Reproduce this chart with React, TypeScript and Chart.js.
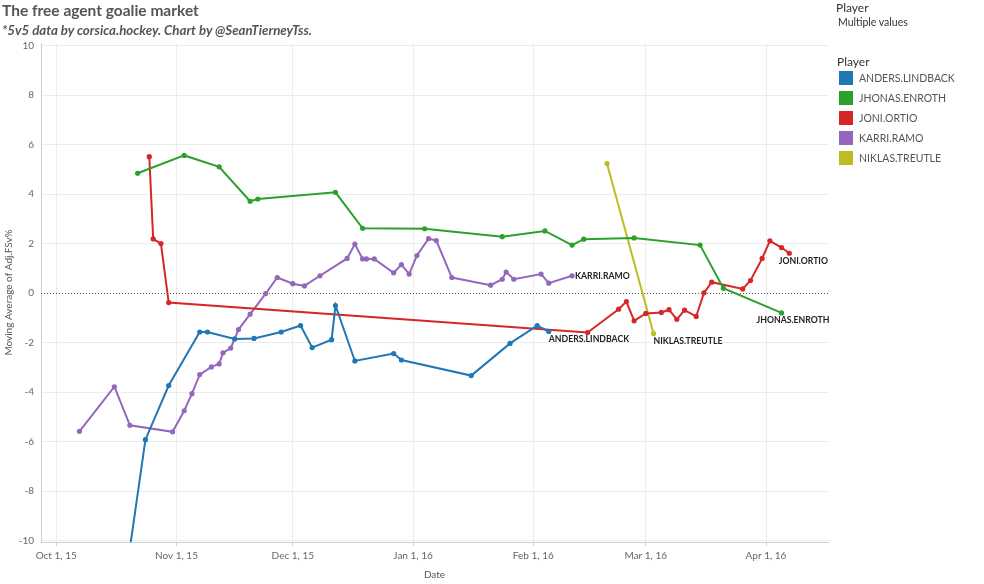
import React, { useEffect, useRef } from "react";
import { Chart, registerables } from "chart.js";
Chart.register(...registerables);

const FONT = "Lato, 'Open Sans', sans-serif";

// ---- data ----
const playerNames = ["ANDERS.LINDBACK", "JHONAS.ENROTH", "JONI.ORTIO", "KARRI.RAMO", "NIKLAS.TREUTLE"];
const playerColors = ["#1f77b4", "#2ca02c", "#d62728", "#9467bd", "#bcbd22"];

const lindbackDates = ["2015-10-19","2015-10-24","2015-10-30","2015-11-07","2015-11-09","2015-11-16","2015-11-21","2015-11-28","2015-12-03","2015-12-06","2015-12-11","2015-12-12","2015-12-17","2015-12-27","2015-12-29","2016-01-16","2016-01-26","2016-02-02","2016-02-05"];
const lindbackValues = [-11.4,-5.92,-3.73,-1.57,-1.57,-1.85,-1.83,-1.57,-1.31,-2.2,-1.88,-0.5,-2.74,-2.44,-2.7,-3.33,-2.03,-1.31,-1.55];

const enrothDates = ["2015-10-22","2015-11-03","2015-11-12","2015-11-20","2015-11-22","2015-12-12","2015-12-19","2016-01-04","2016-01-24","2016-02-04","2016-02-11","2016-02-14","2016-02-27","2016-03-15","2016-03-21","2016-04-05"];
const enrothValues = [4.84,5.56,5.1,3.71,3.8,4.07,2.62,2.6,2.28,2.51,1.94,2.18,2.23,1.94,0.2,-0.8];

const ortioDates = ["2015-10-25","2015-10-26","2015-10-28","2015-10-30","2016-02-15","2016-02-23","2016-02-25","2016-02-27","2016-03-01","2016-03-05","2016-03-07","2016-03-09","2016-03-11","2016-03-14","2016-03-16","2016-03-18","2016-03-26","2016-03-28","2016-03-31","2016-04-02","2016-04-05","2016-04-07"];
const ortioValues = [5.51,2.19,2.0,-0.38,-1.59,-0.65,-0.34,-1.12,-0.82,-0.78,-0.67,-1.06,-0.69,-0.94,0.01,0.44,0.17,0.51,1.4,2.11,1.84,1.61];

const ramoDates = ["2015-10-07","2015-10-16","2015-10-20","2015-10-31","2015-11-03","2015-11-05","2015-11-07","2015-11-10","2015-11-12","2015-11-13","2015-11-15","2015-11-17","2015-11-20","2015-11-24","2015-11-27","2015-12-01","2015-12-04","2015-12-08","2015-12-15","2015-12-17","2015-12-19","2015-12-20","2015-12-22","2015-12-27","2015-12-29","2015-12-31","2016-01-02","2016-01-05","2016-01-07","2016-01-11","2016-01-21","2016-01-24","2016-01-25","2016-01-27","2016-02-03","2016-02-05","2016-02-11"];
const ramoValues = [-5.58,-3.78,-5.34,-5.6,-4.75,-4.06,-3.29,-2.98,-2.86,-2.41,-2.22,-1.47,-0.85,-0.02,0.63,0.38,0.29,0.7,1.4,1.98,1.38,1.38,1.38,0.82,1.15,0.77,1.52,2.2,2.12,0.63,0.32,0.56,0.85,0.56,0.77,0.4,0.7];

const treutleDates = ["2016-02-20","2016-03-03"];
const treutleValues = [5.23,-1.63];

const xTickDates = ["2015-10-01","2015-11-01","2015-12-01","2016-01-01","2016-02-01","2016-03-01","2016-04-01"];
const xTickLabels = ["Oct 1, 15","Nov 1, 15","Dec 1, 15","Jan 1, 16","Feb 1, 16","Mar 1, 16","Apr 1, 16"];
const yTickValues = [-10,-8,-6,-4,-2,0,2,4,6,8,10];
const xRangeDays = [-3.92, 198.98]; // days relative to Oct 1, 2015
const yRange = [-10.05, 10.1];

// ---- helpers ----
const BASE = Date.UTC(2015, 9, 1);
function dayOf(s: string): number {
  const [y, m, d] = s.split("-").map(Number);
  return (Date.UTC(y, m - 1, d) - BASE) / 86400000;
}
function series(dates: string[], values: number[]) {
  return dates.map((d, i) => ({ x: dayOf(d), y: values[i] }));
}
const seriesData = [
  series(lindbackDates, lindbackValues),
  series(enrothDates, enrothValues),
  series(ortioDates, ortioValues),
  series(ramoDates, ramoValues),
  series(treutleDates, treutleValues),
];
const labelOffsets: [number, number][] = [[0, 8], [-25, 7], [-10.5, 7.5], [3, 0], [0, 8]];
const xTickDays = xTickDates.map(dayOf);

const annotate = {
  id: "annotate",
  beforeDatasetsDraw(chart: any) {
    const { ctx, chartArea, scales } = chart;
    const y0 = Math.round(scales.y.getPixelForValue(0)) + 0.5;
    ctx.save();
    ctx.strokeStyle = "#555";
    ctx.lineWidth = 1;
    ctx.setLineDash([1, 2]);
    ctx.beginPath();
    ctx.moveTo(chartArea.left, y0);
    ctx.lineTo(chartArea.right, y0);
    ctx.stroke();
    ctx.restore();
  },
  afterDatasetsDraw(chart: any) {
    const { ctx } = chart;
    ctx.save();
    ctx.font = `bold 8.7px ${FONT}`;
    ctx.fillStyle = "#222";
    ctx.textAlign = "left";
    ctx.textBaseline = "middle";
    chart.data.datasets.forEach((ds: any, i: number) => {
      const meta = chart.getDatasetMeta(i);
      const last = meta.data[meta.data.length - 1];
      const off = labelOffsets[i];
      ctx.fillText(ds.label, last.x + off[0], last.y + off[1]);
    });
    ctx.restore();
  },
};

export default function App() {
  const ref = useRef<HTMLCanvasElement>(null);
  useEffect(() => {
    if (!ref.current) return;
    const chart = new Chart(ref.current, {
      type: "line",
      data: {
        datasets: playerNames.map((name, i) => ({
          label: name,
          data: seriesData[i],
          borderColor: playerColors[i],
          backgroundColor: playerColors[i],
          pointBackgroundColor: playerColors[i],
          pointBorderWidth: 0,
          pointRadius: 2.6,
          borderWidth: 2,
          tension: 0,
          fill: false,
        })),
      },
      options: {
        responsive: false,
        animation: false,
        layout: { padding: { left: 0, top: 43, right: 156, bottom: 0 } },
        plugins: { legend: { display: false }, tooltip: { enabled: false } },
        scales: {
          x: {
            type: "linear",
            min: xRangeDays[0],
            max: xRangeDays[1],
            afterBuildTicks: (s: any) => { s.ticks = xTickDays.map((v) => ({ value: v })); },
            afterFit: (s: any) => { s.height = 42; },
            ticks: {
              autoSkip: false,
              maxRotation: 0,
              padding: 4,
              color: "#666",
              font: { family: FONT, size: 10 },
              callback: (v: any) => { const i = xTickDays.indexOf(v); return i >= 0 ? xTickLabels[i] : ""; },
            },
            grid: { color: "#ececec", drawTicks: true, tickLength: 4, tickColor: "#d0d0d0" },
            border: { color: "#cfcfcf" },
            title: { display: true, text: "Date", color: "#555", font: { family: FONT, size: 10 }, padding: { top: 2, bottom: 3 } },
          },
          y: {
            type: "linear",
            min: yRange[0],
            max: yRange[1],
            afterBuildTicks: (s: any) => { s.ticks = yTickValues.map((v) => ({ value: v })); },
            afterFit: (s: any) => { s.width = 41; },
            ticks: { padding: 7, color: "#666", font: { family: FONT, size: 10 } },
            grid: {
              drawTicks: false,
              color: (c: any) => (c.tick && c.tick.value === 0 ? "rgba(0,0,0,0)" : "#ececec"),
            },
            border: { color: "#cfcfcf" },
            title: { display: true, text: "Moving Average of Adj.FSv%", color: "#555", font: { family: FONT, size: 10 }, padding: { top: 3, bottom: 0 } },
          },
        },
      },
      plugins: [annotate],
    } as any);
    return () => chart.destroy();
  }, []);

  return (
    <div style={{ position: "fixed", left: 0, top: 0, width: 984, height: 584, background: "#fff", fontFamily: FONT, overflow: "hidden" }}>
      <canvas ref={ref} width={984} height={584} style={{ position: "absolute", left: 0, top: 0 }} />
      <div style={{ position: "absolute", left: 2, top: 1, fontSize: 15.5, fontWeight: "bold", color: "#555", whiteSpace: "nowrap" }}>
        The free agent goalie market
      </div>
      <div style={{ position: "absolute", left: 2, top: 22, fontSize: 13.3, fontWeight: "bold", fontStyle: "italic", color: "#555", whiteSpace: "nowrap" }}>
        *5v5 data by corsica.hockey. Chart by @SeanTierneyTss.
      </div>
      <div style={{ position: "absolute", left: 836, top: 0, fontSize: 12, color: "#333", whiteSpace: "nowrap" }}>Player</div>
      <div style={{ position: "absolute", left: 838, top: 16, fontSize: 10.5, color: "#333", whiteSpace: "nowrap" }}>Multiple values</div>
      <div style={{ position: "absolute", left: 837, top: 54, fontSize: 12, color: "#333", whiteSpace: "nowrap" }}>Player</div>
      {playerNames.map((n, i) => (
        <div key={n} style={{ position: "absolute", left: 839, top: 71 + i * 20, height: 14, display: "flex", alignItems: "center", whiteSpace: "nowrap" }}>
          <div style={{ width: 14, height: 14, background: playerColors[i] }} />
          <span style={{ marginLeft: 6, fontSize: 10.5, color: "#555" }}>{n}</span>
        </div>
      ))}
    </div>
  );
}
